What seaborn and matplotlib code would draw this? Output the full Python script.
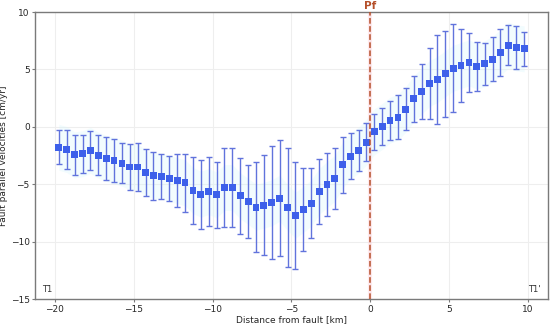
import numpy as np
import pandas as pd
import matplotlib
matplotlib.use("Agg")
import matplotlib.pyplot as plt
import seaborn as sns

# distance bin centres [km]
distance = [-19.75, -19.25, -18.75, -18.25, -17.75, -17.25, -16.75, -16.25, -15.75, -15.25,
            -14.75, -14.25, -13.75, -13.25, -12.75, -12.25, -11.75, -11.25, -10.75, -10.25,
            -9.75, -9.25, -8.75, -8.25, -7.75, -7.25, -6.75, -6.25, -5.75, -5.25,
            -4.75, -4.25, -3.75, -3.25, -2.75, -2.25, -1.75, -1.25, -0.75, -0.25,
            0.25, 0.75, 1.25, 1.75, 2.25, 2.75, 3.25, 3.75, 4.25, 4.75,
            5.25, 5.75, 6.25, 6.75, 7.25, 7.75, 8.25, 8.75, 9.25, 9.75]

# mean fault parallel velocity [cm/yr]
velocity = [-1.78, -1.98, -2.44, -2.35, -2.06, -2.47, -2.76, -2.94, -3.17, -3.50,
            -3.50, -4.00, -4.27, -4.30, -4.47, -4.70, -4.88, -5.55, -5.87, -5.64,
            -5.93, -5.29, -5.29, -6.01, -6.50, -7.00, -6.83, -6.62, -6.22, -7.03,
            -7.70, -7.20, -6.65, -5.64, -5.03, -4.50, -3.31, -2.56, -2.04, -1.34,
            -0.44, 0.03, 0.58, 0.84, 1.53, 2.44, 3.10, 3.77, 4.12, 4.62,
            5.10, 5.34, 5.57, 5.28, 5.49, 5.89, 6.47, 7.11, 6.88, 6.79]

# standard deviation [cm/yr]
std = [1.48, 1.67, 1.76, 1.68, 1.72, 1.75, 1.83, 1.86, 1.75, 1.97,
       2.08, 2.03, 2.09, 1.95, 1.96, 2.30, 2.53, 2.90, 3.02, 3.02,
       2.88, 3.43, 3.43, 3.33, 3.21, 3.90, 4.35, 4.92, 5.04, 5.20,
       4.65, 3.58, 3.02, 2.86, 2.78, 2.67, 2.46, 1.99, 1.77, 1.67,
       1.59, 1.60, 1.71, 1.92, 1.83, 2.00, 2.40, 3.11, 3.85, 3.76,
       3.85, 3.17, 2.58, 2.15, 1.81, 1.92, 2.05, 1.73, 1.87, 1.47]

df = pd.DataFrame({"dist": distance, "vel": velocity, "std": std})

sns.set_style("whitegrid", {"grid.color": "#eeeeee", "axes.edgecolor": "#7a7a7a"})
plt.rcParams["font.family"] = ["DejaVu Sans"]

fig, ax = plt.subplots(figsize=(5.5, 3.25), dpi=100)
fig.subplots_adjust(left=0.064, right=0.996, top=0.963, bottom=0.08)

# faint band around the profile
ax.fill_between(df["dist"], df["vel"] - 2, df["vel"] + 2, color="#d4f6fc", alpha=0.3, lw=0)

ax.errorbar(df["dist"], df["vel"], yerr=df["std"], fmt="none", ecolor="#6173dc",
            elinewidth=1.0, capsize=2, capthick=1.0, zorder=2)
sns.scatterplot(data=df, x="dist", y="vel", marker="s", s=24, color="#3d60ea",
                edgecolor="none", ax=ax, zorder=3)

# fault position
ax.axvline(0, color="#ffd6e0", lw=3, alpha=0.5, zorder=1)
ax.axvline(0, color="#b5502a", lw=1.1, ls="--", zorder=4)
ax.text(0, 1.004, "Pf", transform=ax.get_xaxis_transform(), ha="center", va="bottom",
        color="#b5502a", fontsize=7.5, fontweight="bold")

ax.text(0.014, 0.025, "T1", transform=ax.transAxes, fontsize=6, color="#333333")
ax.text(0.986, 0.025, "T1'", transform=ax.transAxes, ha="right", fontsize=6, color="#333333")

ax.set_xlim(-21.25, 11.25)
ax.set_ylim(-15, 10)
ax.set_xticks([-20, -15, -10, -5, 0, 5, 10])
ax.set_yticks([-15, -10, -5, 0, 5, 10])
ax.tick_params(axis="both", labelsize=6.5, length=2.5, pad=1.5, color="#7a7a7a", left=True, bottom=True)
ax.set_xlabel("Distance from fault [km]", fontsize=6.5, labelpad=1)
ax.set_ylabel("Fault parallel velocities [cm/yr]", fontsize=6.5, labelpad=2)
for sp in ax.spines.values():
    sp.set_linewidth(1.0)

fig.savefig("out.png", dpi=100)
